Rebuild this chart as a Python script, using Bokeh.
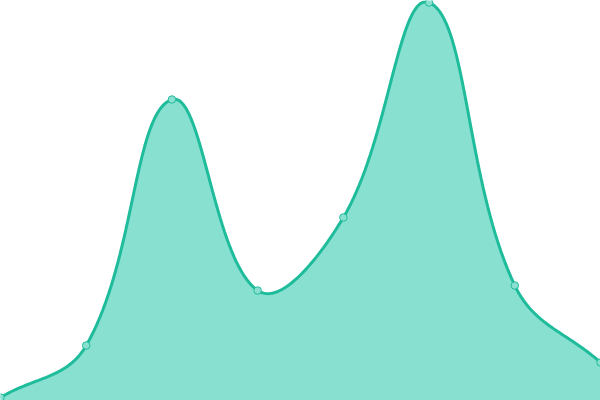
import numpy as np
from bokeh.plotting import figure
from bokeh.embed import file_html
from bokeh.resources import INLINE
from bokeh.models import Range1d

# data
categories = [0, 1, 2, 3, 4, 5, 6, 7]
values = [3, 55, 301, 110, 183, 398, 115, 38]

W, H = 600, 400
X_MAX = 7
Y_MAX = 400

# Chart.js-like spline (tension 0.4) computed in pixel space for drawing
def spline_curve(xs, ys, t=0.4):
    px = np.array(xs, float) * W / X_MAX
    py = np.array(ys, float) * H / Y_MAX
    n = len(px)
    cps = []
    for i in range(n):
        p0 = (px[max(i - 1, 0)], py[max(i - 1, 0)])
        p1 = (px[i], py[i])
        p2 = (px[min(i + 1, n - 1)], py[min(i + 1, n - 1)])
        d01 = np.hypot(p1[0] - p0[0], p1[1] - p0[1])
        d12 = np.hypot(p2[0] - p1[0], p2[1] - p1[1])
        tot = d01 + d12
        s01 = d01 / tot if tot else 0
        s12 = d12 / tot if tot else 0
        fa, fb = t * s01, t * s12
        prev_cp = (p1[0] - fa * (p2[0] - p0[0]), p1[1] - fa * (p2[1] - p0[1]))
        next_cp = (p1[0] + fb * (p2[0] - p0[0]), p1[1] + fb * (p2[1] - p0[1]))
        cps.append((prev_cp, next_cp))
    ox, oy = [], []
    ts = np.linspace(0, 1, 40)
    for i in range(n - 1):
        a = np.array([px[i], py[i]])
        b = np.array(cps[i][1])
        c = np.array(cps[i + 1][0])
        d = np.array([px[i + 1], py[i + 1]])
        for tt in ts[:-1] if i < n - 2 else ts:
            q = ((1 - tt) ** 3) * a + 3 * ((1 - tt) ** 2) * tt * b + 3 * (1 - tt) * tt ** 2 * c + tt ** 3 * d
            ox.append(q[0] * X_MAX / W)
            oy.append(q[1] * Y_MAX / H)
    return ox, oy

sx, sy = spline_curve(categories, values)

p = figure(width=W, height=H, output_backend="svg", toolbar_location=None,
           x_range=Range1d(0, X_MAX), y_range=Range1d(0, Y_MAX),
           min_border=0, min_border_left=0, min_border_right=0,
           min_border_top=0, min_border_bottom=0)
p.axis.visible = False
p.grid.visible = False
p.outline_line_color = None
p.background_fill_color = "white"

p.varea(x=sx, y1=0, y2=sy, fill_color="#88e0d0", fill_alpha=1.0)
p.line(sx, sy, line_color="#1fbc9c", line_width=3)
p.scatter(categories, values, size=7.5, fill_color="#8ae0d0", line_color="#1fbc9c", line_width=1)

html = file_html(p, INLINE)
html = html.replace("<head>", "<head><style>html,body{margin:0;padding:0;}</style>", 1)
open("out.html", "w").write(html)
